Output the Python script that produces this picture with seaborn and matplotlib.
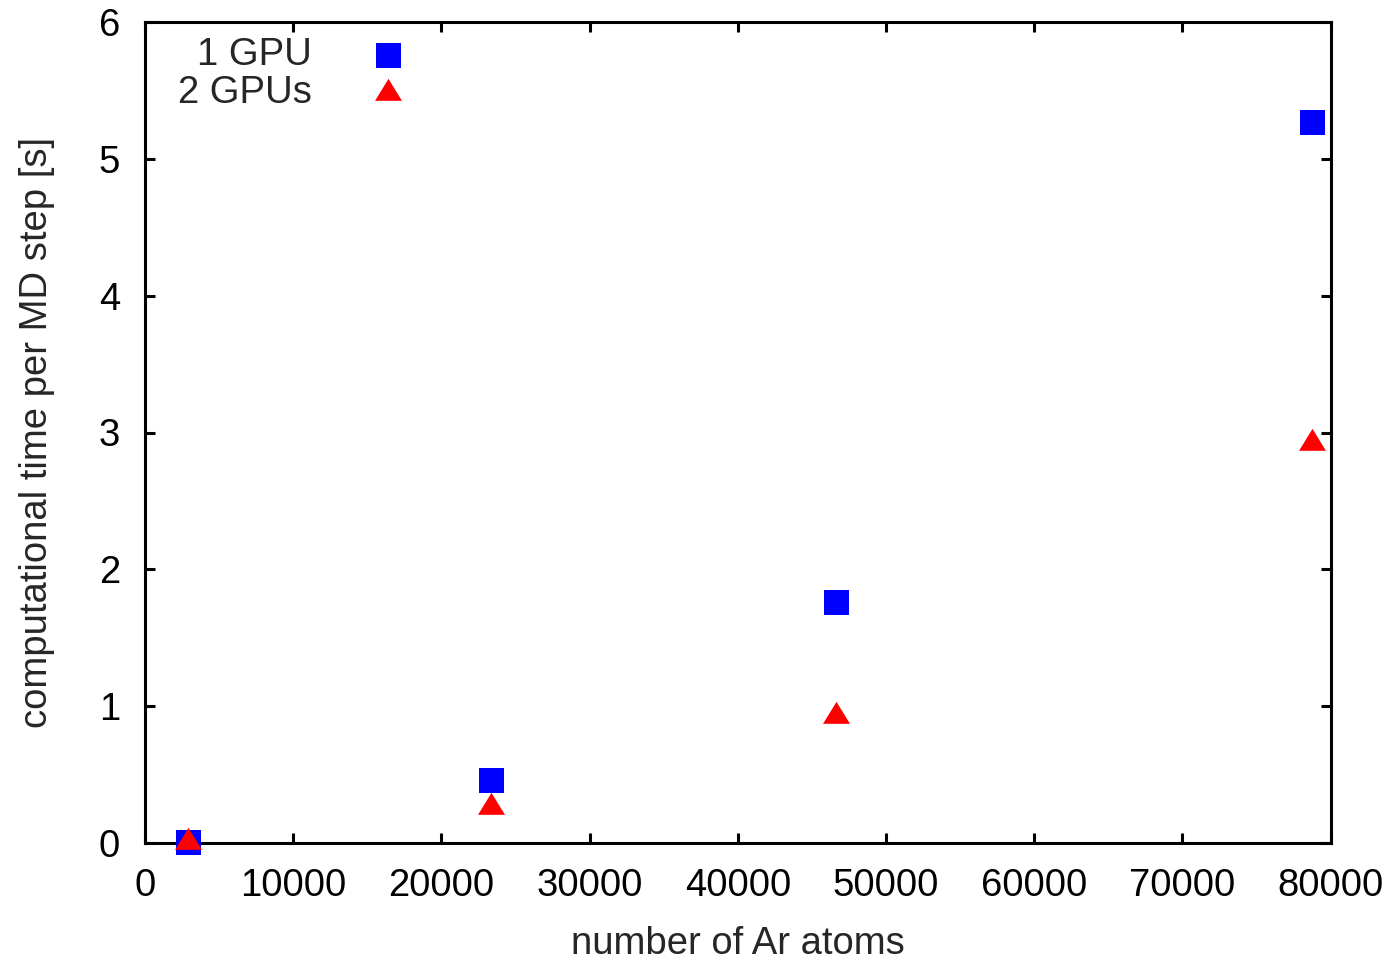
import numpy as np
import pandas as pd
import matplotlib
matplotlib.use("Agg")
import matplotlib.pyplot as plt
import seaborn as sns

# data
n_atoms = [2916, 23328, 46656, 78732]
time_1gpu = [0.005, 0.46, 1.76, 5.27]
time_2gpu = [0.005, 0.265, 0.928, 2.925]
series_labels = ["1 GPU", "2 GPUs"]

x_ticks = np.arange(0, 80001, 10000)
y_ticks = np.arange(0, 7, 1)

df = pd.DataFrame({
    "atoms": n_atoms * 2,
    "time": time_1gpu + time_2gpu,
    "series": [series_labels[0]] * len(n_atoms) + [series_labels[1]] * len(n_atoms),
})

sns.set_theme(style="white")
plt.rcParams["font.family"] = ["Liberation Sans", "DejaVu Sans"]

# gnuplot-like triangle (centroid at the data point)
tri = [(-13.5, -7.33), (13.5, -7.33), (0, 14.67), (-13.5, -7.33)]

fig = plt.figure(figsize=(13.96, 9.61), dpi=100)
ax = fig.add_axes([145 / 1396, 118 / 961, 1185.5 / 1396, 821 / 961])

sns.scatterplot(data=df[df["series"] == series_labels[0]], x="atoms", y="time",
                marker="s", s=18 ** 2, color="#0000ff", linewidth=0,
                label=series_labels[0], ax=ax, zorder=3, clip_on=False)
sns.scatterplot(data=df[df["series"] == series_labels[1]], x="atoms", y="time",
                marker=tri, s=21.1 ** 2, color="#ff0000", linewidth=0,
                label=series_labels[1], ax=ax, zorder=4, clip_on=False)

ax.set_xlim(0, 80000)
ax.set_ylim(0, 6)
ax.set_xticks(x_ticks)
ax.set_yticks(y_ticks)
ax.tick_params(direction="in", length=7, width=2.2, labelsize=27.5,
               top=True, right=True, bottom=True, left=True, colors="black")
ax.tick_params(axis="x", pad=18)
ax.tick_params(axis="y", pad=18)
for sp in ax.spines.values():
    sp.set_linewidth(2.2)
    sp.set_color("black")

ax.set_xlabel("number of Ar atoms", fontsize=27.5)
ax.set_ylabel("computational time per MD step [s]", fontsize=27.5)
ax.xaxis.set_label_coords(0.5, -0.101)
ax.yaxis.set_label_coords(-0.076, 0.5)

leg = ax.legend(loc="upper right", bbox_to_anchor=((426 - 145) / 1185.5, 0.982),
                frameon=False, markerfirst=False, fontsize=27.5,
                handlelength=2.0, handletextpad=1.0, labelspacing=0.07,
                borderpad=0, borderaxespad=0)

fig.savefig("out.png", dpi=100)
